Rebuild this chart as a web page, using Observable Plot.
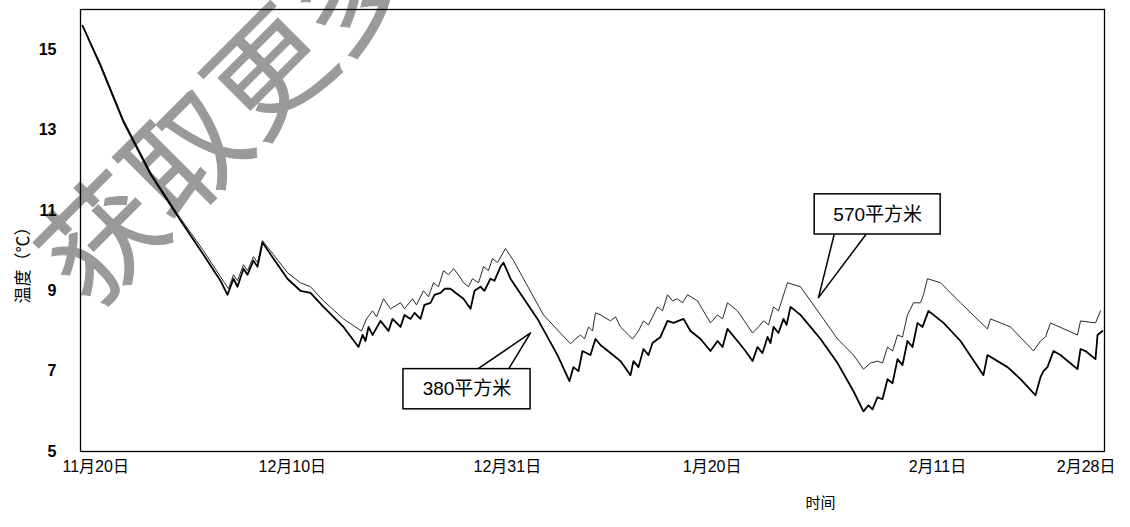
<!DOCTYPE html>
<html><head><meta charset="utf-8">
<script src="https://cdn.jsdelivr.net/npm/d3@7"></script>
<script src="https://cdn.jsdelivr.net/npm/@observablehq/plot@0.6"></script>
<style>
body{margin:0;background:#fff;}
#wrap{position:relative;width:1130px;height:527px;overflow:hidden;background:#fff;}
#wm{position:absolute;left:222px;top:108px;transform:translate(-50%,-50%) rotate(-45deg);font-family:"Noto Sans CJK SC";font-size:118px;color:#9a9a9a;-webkit-text-stroke:1px #9a9a9a;white-space:nowrap;z-index:0;line-height:1;}
#chart{position:absolute;left:0;top:0;z-index:1;}
</style></head><body>
<div id="wrap"><div id="wm">获取更多</div><div id="chart"></div></div>
<script>
// x = days since 11月20日
const xTickDays = [0, 20, 41, 61, 83, 100];
const xTickLabels = ["11月20日", "12月10日", "12月31日", "1月20日", "2月11日", "2月28日"];
const yTicks = [5, 7, 9, 11, 13, 15];

const days380 = [0.2,1.95,4.2,6.84,9.77,12.0,13.67,14.36,14.94,15.33,15.92,16.31,16.89,17.29,17.77,18.85,20.21,21.48,22.46,23.73,25.68,27.15,27.54,27.83,28.13,28.52,29.3,30.08,30.47,31.25,31.64,32.23,32.62,33.2,33.59,34.18,34.57,35.16,35.55,36.13,36.62,37.4,38.09,38.48,39.06,39.45,40.04,40.43,41.02,41.31,41.99,44.63,46.58,47.75,48.14,48.63,49.02,49.8,50.29,50.78,51.76,52.73,53.71,54.0,54.49,54.98,55.47,55.86,56.64,57.32,57.91,58.89,59.57,60.55,61.52,62.21,62.7,63.18,64.16,64.94,65.63,66.11,66.6,67.09,67.38,67.68,68.16,68.65,68.95,69.34,70.31,72.27,73.93,75.49,76.46,76.95,77.34,77.83,78.32,78.81,79.3,79.79,80.27,80.76,81.25,81.74,82.23,82.81,84.28,85.94,88.18,88.57,90.53,91.8,93.26,93.75,94.04,94.43,95.02,95.7,97.36,97.66,98.14,99.12,99.32,99.8];
const temps380 = [15.6,14.6,13.2,11.9,10.75,9.9,9.25,8.9,9.3,9.1,9.55,9.4,9.75,9.6,10.2,9.8,9.3,9.0,8.95,8.6,8.1,7.6,7.9,7.75,8.1,7.9,8.25,8.0,8.3,8.1,8.4,8.3,8.45,8.3,8.65,8.7,8.9,8.95,9.05,9.05,8.95,8.8,8.55,9.0,9.1,9.0,9.3,9.25,9.6,9.7,9.3,8.3,7.4,6.75,7.1,7.0,7.5,7.4,7.8,7.65,7.45,7.25,6.9,7.25,7.1,7.55,7.4,7.7,7.85,8.25,8.2,8.3,8.0,7.8,7.5,7.75,7.6,8.05,7.75,7.5,7.25,7.6,7.45,7.85,7.7,8.1,7.95,8.3,8.15,8.6,8.4,7.8,7.2,6.5,6.0,6.15,6.05,6.35,6.3,6.8,6.7,7.3,7.15,7.75,7.6,8.2,8.1,8.5,8.2,7.75,6.9,7.4,7.1,6.8,6.4,6.85,7.0,7.1,7.5,7.4,7.05,7.55,7.5,7.3,7.9,8.0];

const days570 = [0.2,1.95,4.2,6.84,9.77,12.0,13.67,14.45,14.94,15.33,15.92,16.31,16.89,17.29,17.77,18.85,20.21,21.48,22.46,23.73,25.68,27.44,27.93,28.52,28.91,29.59,30.27,31.25,31.64,32.42,32.81,33.5,33.98,34.47,34.96,35.45,35.94,36.43,36.91,37.4,37.89,38.28,38.87,39.36,39.84,40.23,40.72,41.5,42.29,45.21,47.85,48.34,48.83,49.22,49.61,50.0,50.29,50.78,51.76,52.25,52.73,53.91,54.49,54.98,55.47,56.35,56.84,57.32,57.81,58.3,58.79,59.28,60.25,61.52,62.21,62.7,63.18,64.16,65.63,66.21,66.7,67.19,67.68,68.16,68.85,69.04,70.31,72.27,73.93,75.49,76.46,77.15,77.83,78.32,78.81,79.3,79.79,80.27,80.76,81.35,82.03,82.32,82.71,83.98,85.94,88.57,88.87,90.82,93.07,93.75,94.24,94.73,97.36,97.66,99.12,99.61];
const temps570 = [15.6,14.65,13.25,11.95,10.8,10.0,9.35,9.05,9.4,9.25,9.65,9.5,9.85,9.7,10.25,9.9,9.45,9.2,9.1,8.75,8.3,8.0,8.3,8.5,8.35,8.8,8.55,8.7,8.55,8.8,8.65,9.0,8.85,9.2,9.1,9.5,9.4,9.55,9.4,9.2,9.1,9.3,9.2,9.6,9.5,9.8,9.7,10.05,9.75,8.4,7.68,7.8,7.9,7.8,8.1,8.0,8.45,8.4,8.25,8.35,8.1,7.8,8.0,8.25,8.15,8.6,8.5,8.9,8.75,8.8,8.7,8.9,8.75,8.2,8.4,8.3,8.7,8.5,7.95,8.1,8.25,8.15,8.6,8.5,9.05,9.2,9.1,8.4,7.8,7.4,7.05,7.2,7.25,7.2,7.6,7.5,7.9,7.85,8.4,8.7,8.7,8.9,9.3,9.2,8.7,8.05,8.3,8.1,7.5,7.75,7.85,8.2,7.9,8.25,8.2,8.5];

// callout annotations
const calloutLabels = ["380平方米", "570平方米"];
const calloutTip = [[43.95, 7.95], [72.07, 8.83]];
const calloutBase = [[[38.77, 7.05], [41.8, 7.05]], [[73.6, 10.4], [76.7, 10.4]]];
const calloutBox = [[31.54, 43.95, 6.05, 7.05], [71.7, 84.0, 10.4, 11.4]];

const rows380 = days380.map((d, i) => ({day: d, temp: temps380[i]}));
const rows570 = days570.map((d, i) => ({day: d, temp: temps570[i]}));
const wedges = calloutTip.flatMap((t, i) => [
  {id: i, day: calloutBase[i][0][0], temp: calloutBase[i][0][1]},
  {id: i, day: t[0], temp: t[1]},
  {id: i, day: calloutBase[i][1][0], temp: calloutBase[i][1][1]}
]);
const boxes = calloutBox.map((b, i) => ({x1: b[0], x2: b[1], y1: b[2], y2: b[3], label: calloutLabels[i]}));
const fmt = d => xTickLabels[xTickDays.indexOf(d)];
const font = "'Liberation Sans', 'Noto Sans CJK SC', sans-serif";

const chart = Plot.plot({
  width: 1130, height: 527,
  marginLeft: 80, marginRight: 26, marginTop: 9, marginBottom: 76,
  style: {background: "transparent", fontFamily: font, color: "#000", overflow: "visible"},
  x: {domain: [0, 100]},
  y: {domain: [5, 16]},
  marks: [
    Plot.frame({stroke: "#000", strokeWidth: 1.3}),
    Plot.axisY({ticks: yTicks, tickSize: 0, tickPadding: 24, fontSize: 16, fontWeight: "bold", label: null}),
    Plot.axisX({ticks: xTickDays.slice(0, 1), tickFormat: fmt, tickSize: 0, tickPadding: 9, textAnchor: "start", dx: -18, fontSize: 16, label: null}),
    Plot.axisX({ticks: xTickDays.slice(1, 5), tickFormat: fmt, tickSize: 0, tickPadding: 9, dx: 7, fontSize: 16, label: null}),
    Plot.axisX({ticks: xTickDays.slice(5), tickFormat: fmt, tickSize: 0, tickPadding: 9, textAnchor: "end", dx: 11, fontSize: 16, label: null}),
    Plot.text(["时间"], {frameAnchor: "bottom", dx: 228, dy: 56, fontSize: 15}),
    Plot.text(["温度（℃）"], {frameAnchor: "left", rotate: -90, dx: -57, dy: 73, fontSize: 17}),
    Plot.line(rows570, {x: "day", y: "temp", stroke: "#2a2a2a", strokeWidth: 1}),
    Plot.line(rows380, {x: "day", y: "temp", stroke: "#000", strokeWidth: 1.8}),
    Plot.line(wedges, {x: "day", y: "temp", z: "id", stroke: "#000", strokeWidth: 1.5, fill: "#fff"}),
    Plot.rect(boxes, {x1: "x1", x2: "x2", y1: "y1", y2: "y2", fill: "#fff", stroke: "#000", strokeWidth: 1.5}),
    Plot.text(boxes, {x: d => (d.x1 + d.x2) / 2, y: d => (d.y1 + d.y2) / 2, text: "label", fontSize: 19})
  ]
});
document.getElementById("chart").append(chart);
</script>
</body></html>
